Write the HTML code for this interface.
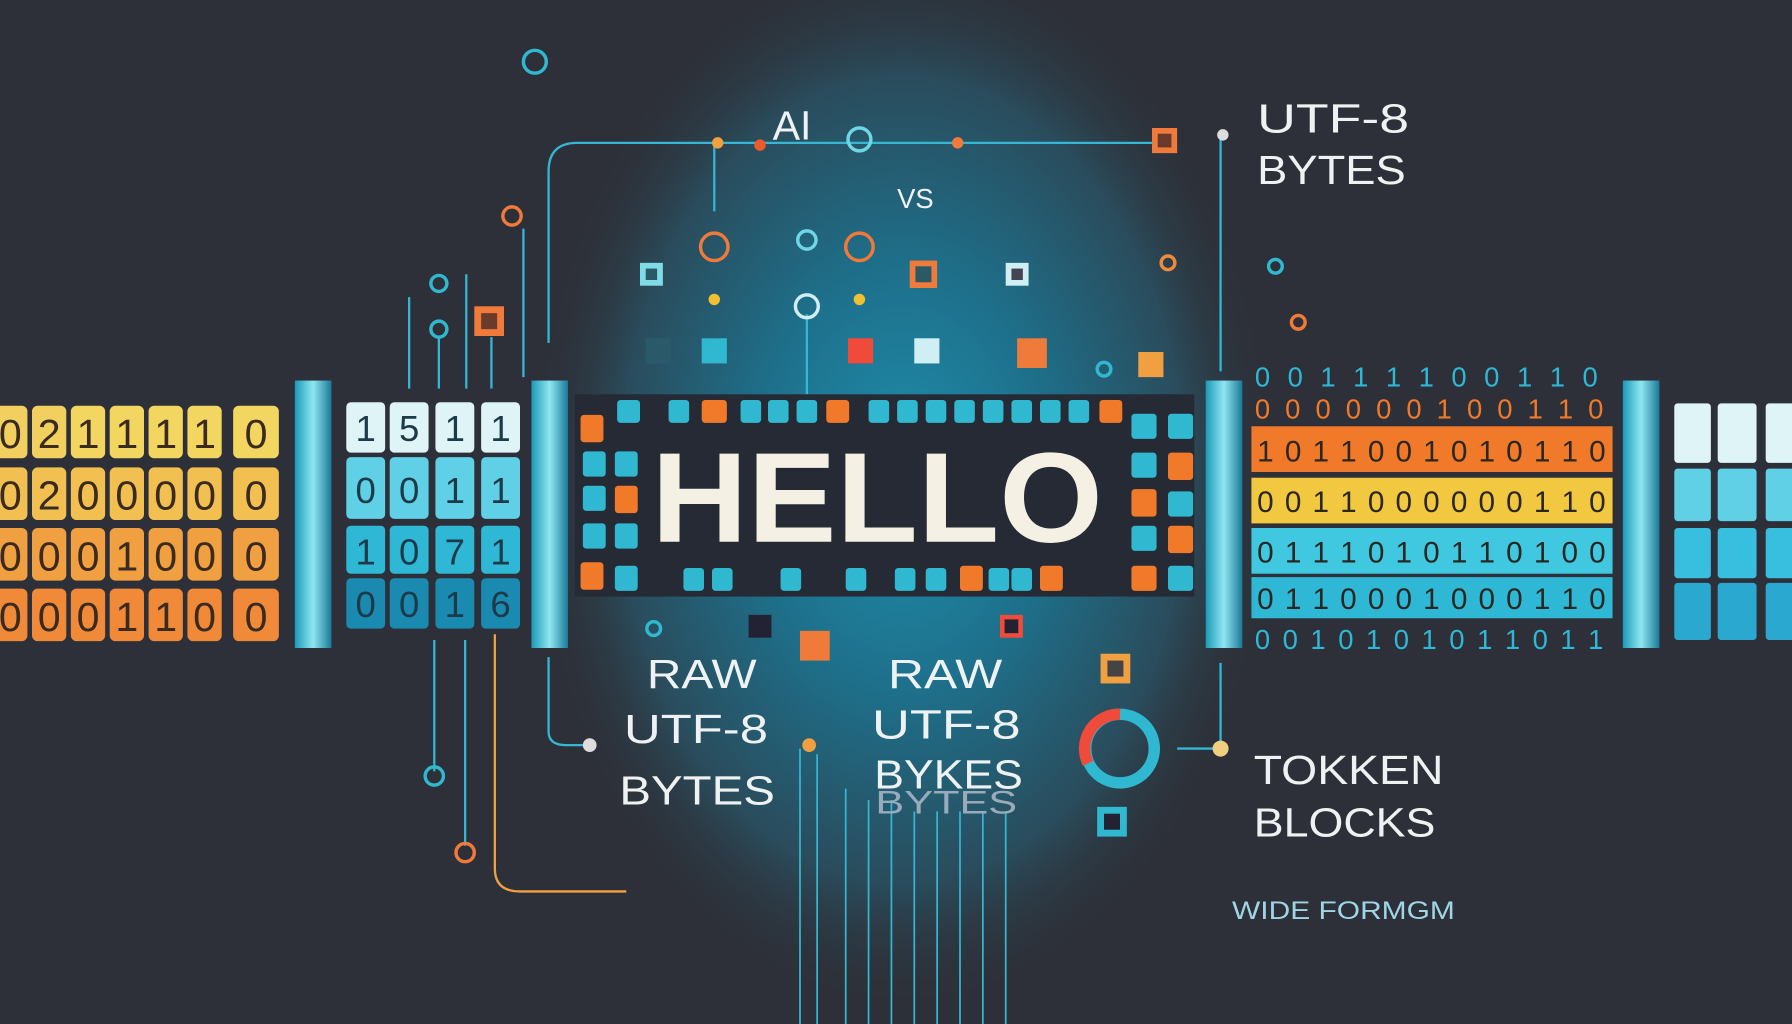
<!DOCTYPE html>
<html><head><meta charset="utf-8"><style>
html,body{margin:0;padding:0;background:#2d3038;}
svg{display:block}
text{font-family:"Liberation Sans",sans-serif}
</style></head><body>
<svg width="1792" height="1024" viewBox="0 0 1568 896" xmlns="http://www.w3.org/2000/svg">
<defs>
<radialGradient id="glow" cx="0.5" cy="0.5" r="0.5">
<stop offset="0" stop-color="#1f8fae"/><stop offset="0.4" stop-color="#1e6f8a"/><stop offset="0.75" stop-color="#2a4c5c"/><stop offset="1" stop-color="#2d3038" stop-opacity="0"/>
</radialGradient>
<linearGradient id="bar" x1="0" y1="0" x2="1" y2="0"><stop offset="0" stop-color="#1a9ab8"/><stop offset="0.5" stop-color="#8fe6f0"/><stop offset="1" stop-color="#1a7a98"/></linearGradient>
</defs>
<rect width="1568" height="896" fill="#2d3038"/>
<ellipse cx="790" cy="420" rx="330" ry="470" fill="url(#glow)"/>
<g stroke="#35b7d4" stroke-width="2" fill="none">
<path d="M480 300 V150 Q480 125 505 125 H1010"/>
<line x1="625" y1="125" x2="625" y2="185"/>
<line x1="1068" y1="120" x2="1068" y2="325"/>
<line x1="358" y1="260" x2="358" y2="340"/><line x1="384" y1="295" x2="384" y2="340"/>
<line x1="408" y1="240" x2="408" y2="340"/><line x1="430" y1="295" x2="430" y2="340"/>
<line x1="458" y1="200" x2="458" y2="330"/>
<line x1="706" y1="275" x2="706" y2="345"/>
<line x1="380" y1="560" x2="380" y2="675"/>
<line x1="407" y1="560" x2="407" y2="740"/>
<path d="M433 555 V760 Q433 780 455 780 H548" stroke="#f0a040"/>
<path d="M480 575 V640 Q480 652 495 652 H515"/>
<line x1="1068" y1="580" x2="1068" y2="650"/>
<path d="M1030 655 H1068"/>
<g stroke-width="1.5"><line x1="700" y1="655" x2="700" y2="896"/><line x1="715" y1="660" x2="715" y2="896"/><line x1="740" y1="690" x2="740" y2="896"/><line x1="760" y1="700" x2="760" y2="896"/><line x1="780" y1="700" x2="780" y2="896"/><line x1="800" y1="710" x2="800" y2="896"/><line x1="820" y1="710" x2="820" y2="896"/><line x1="840" y1="710" x2="840" y2="896"/><line x1="860" y1="710" x2="860" y2="896"/><line x1="880" y1="710" x2="880" y2="896"/></g>
</g>
<g fill="none" stroke-width="3">
<circle cx="468" cy="54" r="10" stroke="#2fb8d0"/>
<circle cx="448" cy="189" r="8" stroke="#f07a3a"/>
<circle cx="384" cy="248" r="7" stroke="#2fb8d0"/>
<circle cx="384" cy="288" r="7" stroke="#2fb8d0"/>
<circle cx="752" cy="122" r="10" stroke="#6fd6e6"/>
<circle cx="625" cy="216" r="12" stroke="#f07a3a"/>
<circle cx="752" cy="216" r="12" stroke="#f07a3a"/>
<circle cx="706" cy="210" r="8" stroke="#6fd6e6"/>
<circle cx="706" cy="268" r="10" stroke="#cfeff5"/>
<circle cx="1116" cy="233" r="6" stroke="#2fb8d0"/>
<circle cx="1022" cy="230" r="6" stroke="#f08a3a"/>
<circle cx="380" cy="679" r="8" stroke="#2fb8d0"/>
<circle cx="407" cy="746" r="8" stroke="#f07a3a"/>
<circle cx="572" cy="550" r="6" stroke="#2fb8d0"/>
<circle cx="966" cy="323" r="6" stroke="#2fb8d0"/>
<circle cx="1136" cy="282" r="6" stroke="#f07a3a"/>
<circle cx="980" cy="655" r="30" stroke="#2fb8d0" stroke-width="10"/>
</g>
<path d="M980 625 A30 30 0 0 0 952 668" stroke="#f04a3a" stroke-width="10" fill="none"/>
<g>
<rect x="1008" y="112" width="22" height="22" fill="#f07a3a"/><rect x="1013" y="117" width="12" height="12" fill="#6a3a2a"/>
<rect x="560" y="230" width="20" height="20" fill="#7fdbe8"/><rect x="565" y="235" width="10" height="10" fill="#2a5a66"/>
<rect x="880" y="230" width="20" height="20" fill="#cfeff5"/><rect x="885" y="235" width="10" height="10" fill="#445"/>
<rect x="415" y="268" width="26" height="26" fill="#f07a3a"/><rect x="421" y="274" width="14" height="14" fill="#6a3a2a"/>
<rect x="796" y="228" width="24" height="24" fill="#f07a3a"/><rect x="801" y="233" width="14" height="14" fill="#2a5a66"/>
<rect x="565" y="296" width="22" height="22" fill="#2a5a6a"/>
<rect x="614" y="296" width="22" height="22" fill="#2fb8d0"/>
<rect x="742" y="296" width="22" height="22" fill="#f04a3a"/>
<rect x="800" y="296" width="22" height="22" fill="#cfeff5"/>
<rect x="890" y="296" width="26" height="26" fill="#f07a3a"/>
<rect x="996" y="308" width="22" height="22" fill="#f0a040"/>
<rect x="700" y="552" width="26" height="26" fill="#f07a3a"/>
<rect x="655" y="538" width="20" height="20" fill="#223"/>
<rect x="875" y="538" width="20" height="20" fill="#f04a3a"/><rect x="879" y="542" width="12" height="12" fill="#223"/>
<rect x="963" y="572" width="26" height="26" fill="#f0a040"/><rect x="969" y="578" width="14" height="14" fill="#444"/>
<rect x="960" y="706" width="26" height="26" fill="#2fb8d0"/><rect x="966" y="712" width="14" height="14" fill="#223"/>
<circle cx="628" cy="125" r="5" fill="#f0a040"/><circle cx="665" cy="127" r="5" fill="#f05a2a"/>
<circle cx="838" cy="125" r="5" fill="#f07a3a"/><circle cx="625" cy="262" r="5" fill="#f0c030"/>
<circle cx="752" cy="262" r="5" fill="#f0c030"/><circle cx="1070" cy="118" r="5" fill="#ddd"/>
<circle cx="516" cy="652" r="6" fill="#ddd"/><circle cx="708" cy="652" r="6" fill="#f0a040"/>
<circle cx="1068" cy="655" r="7" fill="#f0d080"/>
</g>
<g>
<rect x="-6" y="355" width="30" height="46" rx="5" fill="#f2d060"/><rect x="28" y="355" width="30" height="46" rx="5" fill="#f2d060"/><rect x="62" y="355" width="30" height="46" rx="5" fill="#f2d660"/><rect x="96" y="355" width="30" height="46" rx="5" fill="#f2d660"/><rect x="130" y="355" width="30" height="46" rx="5" fill="#f2d660"/><rect x="164" y="355" width="30" height="46" rx="5" fill="#f2d660"/><rect x="204" y="355" width="40" height="46" rx="5" fill="#f2d660"/>
<rect x="-6" y="409" width="30" height="46" rx="5" fill="#f2c050"/><rect x="28" y="409" width="30" height="46" rx="5" fill="#f2c050"/><rect x="62" y="409" width="30" height="46" rx="5" fill="#f2c050"/><rect x="96" y="409" width="30" height="46" rx="5" fill="#f2c050"/><rect x="130" y="409" width="30" height="46" rx="5" fill="#f2c050"/><rect x="164" y="409" width="30" height="46" rx="5" fill="#f2c050"/><rect x="204" y="409" width="40" height="46" rx="5" fill="#f2c050"/>
<rect x="-6" y="462" width="30" height="46" rx="5" fill="#f0a040"/><rect x="28" y="462" width="30" height="46" rx="5" fill="#f0a040"/><rect x="62" y="462" width="30" height="46" rx="5" fill="#f0a040"/><rect x="96" y="462" width="30" height="46" rx="5" fill="#f0a040"/><rect x="130" y="462" width="30" height="46" rx="5" fill="#f0a040"/><rect x="164" y="462" width="30" height="46" rx="5" fill="#f0a040"/><rect x="204" y="462" width="40" height="46" rx="5" fill="#f0a040"/>
<rect x="-6" y="515" width="30" height="46" rx="5" fill="#f08a38"/><rect x="28" y="515" width="30" height="46" rx="5" fill="#f08a38"/><rect x="62" y="515" width="30" height="46" rx="5" fill="#f08a38"/><rect x="96" y="515" width="30" height="46" rx="5" fill="#f08a38"/><rect x="130" y="515" width="30" height="46" rx="5" fill="#f08a38"/><rect x="164" y="515" width="30" height="46" rx="5" fill="#f08a38"/><rect x="204" y="515" width="40" height="46" rx="5" fill="#f08a38"/>
</g>
<g font-size="36" text-anchor="middle" fill="#3a2a20">
<text x="9" y="392">0</text><text x="43" y="392">2</text><text x="77" y="392">1</text><text x="111" y="392">1</text><text x="145" y="392">1</text><text x="179" y="392">1</text><text x="224" y="392">0</text>
<text x="9" y="446">0</text><text x="43" y="446">2</text><text x="77" y="446">0</text><text x="111" y="446">0</text><text x="145" y="446">0</text><text x="179" y="446">0</text><text x="224" y="446">0</text>
<text x="9" y="499">0</text><text x="43" y="499">0</text><text x="77" y="499">0</text><text x="111" y="499">1</text><text x="145" y="499">0</text><text x="179" y="499">0</text><text x="224" y="499">0</text>
<text x="9" y="552">0</text><text x="43" y="552">0</text><text x="77" y="552">0</text><text x="111" y="552">1</text><text x="145" y="552">1</text><text x="179" y="552">0</text><text x="224" y="552">0</text>
</g>
<rect x="258" y="333" width="32" height="234" fill="url(#bar)"/>
<rect x="465" y="333" width="32" height="234" fill="url(#bar)"/>
<rect x="1055" y="333" width="32" height="234" fill="url(#bar)"/>
<g>
<rect x="303" y="352" width="34" height="44" rx="4" fill="#dff4f6"/><rect x="341" y="352" width="34" height="44" rx="4" fill="#dff4f6"/><rect x="381" y="352" width="34" height="44" rx="4" fill="#dff4f6"/><rect x="421" y="352" width="34" height="44" rx="4" fill="#dff4f6"/>
<rect x="303" y="400" width="34" height="54" rx="4" fill="#5fd0e6"/><rect x="341" y="400" width="34" height="54" rx="4" fill="#5fd0e6"/><rect x="381" y="400" width="34" height="54" rx="4" fill="#5fd0e6"/><rect x="421" y="400" width="34" height="54" rx="4" fill="#5fd0e6"/>
<rect x="303" y="460" width="34" height="42" rx="4" fill="#2fb8d6"/><rect x="341" y="460" width="34" height="42" rx="4" fill="#2fb8d6"/><rect x="381" y="460" width="34" height="42" rx="4" fill="#2fb8d6"/><rect x="421" y="460" width="34" height="42" rx="4" fill="#2fb8d6"/>
<rect x="303" y="506" width="34" height="44" rx="4" fill="#1a8ab0"/><rect x="341" y="506" width="34" height="44" rx="4" fill="#1a8ab0"/><rect x="381" y="506" width="34" height="44" rx="4" fill="#1a8ab0"/><rect x="421" y="506" width="34" height="44" rx="4" fill="#1a8ab0"/>
</g>
<g font-size="32" text-anchor="middle" fill="#1d3a48">
<text x="320" y="386">1</text><text x="358" y="386">5</text><text x="398" y="386">1</text><text x="438" y="386">1</text>
<text x="320" y="440">0</text><text x="358" y="440">0</text><text x="398" y="440">1</text><text x="438" y="440">1</text>
<text x="320" y="494">1</text><text x="358" y="494">0</text><text x="398" y="494">7</text><text x="438" y="494">1</text>
<text x="320" y="540">0</text><text x="358" y="540">0</text><text x="398" y="540">1</text><text x="438" y="540">6</text>
</g>
<rect x="503" y="345" width="542" height="177" fill="#252a34"/>
<g fill="#2fb8d0">
<rect x="540" y="350" width="20" height="20" rx="3"/><rect x="585" y="350" width="18" height="20" rx="3"/><rect x="648" y="350" width="18" height="20" rx="3"/><rect x="672" y="350" width="18" height="20" rx="3"/><rect x="697" y="350" width="18" height="20" rx="3"/><rect x="760" y="350" width="18" height="20" rx="3"/><rect x="785" y="350" width="18" height="20" rx="3"/><rect x="810" y="350" width="18" height="20" rx="3"/><rect x="835" y="350" width="18" height="20" rx="3"/><rect x="860" y="350" width="18" height="20" rx="3"/><rect x="885" y="350" width="18" height="20" rx="3"/><rect x="910" y="350" width="18" height="20" rx="3"/><rect x="935" y="350" width="18" height="20" rx="3"/>
<rect x="510" y="395" width="20" height="22" rx="3"/><rect x="538" y="395" width="20" height="22" rx="3"/><rect x="510" y="425" width="20" height="22" rx="3"/><rect x="510" y="458" width="20" height="22" rx="3"/><rect x="538" y="458" width="20" height="22" rx="3"/><rect x="538" y="495" width="20" height="22" rx="3"/>
<rect x="990" y="362" width="22" height="22" rx="3"/><rect x="1022" y="362" width="22" height="22" rx="3"/><rect x="990" y="396" width="22" height="22" rx="3"/><rect x="1022" y="430" width="22" height="22" rx="3"/><rect x="990" y="460" width="22" height="22" rx="3"/><rect x="1022" y="495" width="22" height="22" rx="3"/>
<rect x="598" y="497" width="18" height="20" rx="3"/><rect x="623" y="497" width="18" height="20" rx="3"/><rect x="683" y="497" width="18" height="20" rx="3"/><rect x="740" y="497" width="18" height="20" rx="3"/><rect x="783" y="497" width="18" height="20" rx="3"/><rect x="810" y="497" width="18" height="20" rx="3"/><rect x="865" y="497" width="18" height="20" rx="3"/><rect x="885" y="497" width="18" height="20" rx="3"/>
</g>
<g fill="#f07a2a">
<rect x="508" y="363" width="20" height="24" rx="3"/><rect x="538" y="425" width="20" height="24" rx="3"/><rect x="508" y="492" width="20" height="24" rx="3"/><rect x="614" y="350" width="22" height="20" rx="3"/><rect x="723" y="350" width="20" height="20" rx="3"/><rect x="962" y="350" width="20" height="20" rx="3"/><rect x="1022" y="396" width="22" height="24" rx="3"/><rect x="990" y="428" width="22" height="24" rx="3"/><rect x="1022" y="460" width="22" height="24" rx="3"/><rect x="990" y="495" width="22" height="22" rx="3"/><rect x="840" y="495" width="20" height="22" rx="3"/><rect x="910" y="495" width="20" height="22" rx="3"/>
</g>
<text x="570" y="474" font-size="112" font-weight="bold" textLength="395" lengthAdjust="spacingAndGlyphs" fill="#f4f1e4">HELLO</text>
<rect x="1095" y="373" width="316" height="40" fill="#f07a2a"/>
<rect x="1095" y="418" width="316" height="40" fill="#f2c840"/>
<rect x="1095" y="462" width="316" height="40" fill="#40c8e0"/>
<rect x="1095" y="505" width="316" height="36" fill="#2fb8d6"/>
<g font-size="24">
<text x="1098" y="338" fill="#2fb8d6" textLength="300">0 0 1 1 1 1 0 0 1 1 0</text>
<text x="1098" y="366" fill="#f07a2a" textLength="305">0 0 0 0 0 0 1 0 0 1 1 0</text>
<text x="1098" y="568" fill="#2fb8d6" textLength="305">0 0 1 0 1 0 1 0 1 1 0 1 1</text>
</g>
<g font-size="26" fill="#2a2620">
<text x="1100" y="404" textLength="305">1 0 1 1 0 0 1 0 1 0 1 1 0</text>
<text x="1100" y="448" textLength="305">0 0 1 1 0 0 0 0 0 0 1 1 0</text>
<text x="1100" y="492" textLength="305">0 1 1 1 0 1 0 1 1 0 1 0 0</text>
<text x="1100" y="533" textLength="305">0 1 1 0 0 0 1 0 0 0 1 1 0</text>
</g>
<rect x="1420" y="333" width="32" height="234" fill="url(#bar)"/>
<g>
<rect x="1465" y="353" width="32" height="52" rx="3" fill="#dff4f6"/><rect x="1503" y="353" width="34" height="52" rx="3" fill="#dff4f6"/><rect x="1545" y="353" width="30" height="52" rx="3" fill="#dff4f6"/>
<rect x="1465" y="410" width="32" height="46" rx="3" fill="#5fd0e6"/><rect x="1503" y="410" width="34" height="46" rx="3" fill="#5fd0e6"/><rect x="1545" y="410" width="30" height="46" rx="3" fill="#5fd0e6"/>
<rect x="1465" y="462" width="32" height="44" rx="3" fill="#38bede"/><rect x="1503" y="462" width="34" height="44" rx="3" fill="#38bede"/><rect x="1545" y="462" width="30" height="44" rx="3" fill="#38bede"/>
<rect x="1465" y="510" width="32" height="50" rx="3" fill="#2aa8d0"/><rect x="1503" y="510" width="34" height="50" rx="3" fill="#2aa8d0"/><rect x="1545" y="510" width="30" height="50" rx="3" fill="#2aa8d0"/>
</g>
<g fill="#eef2f2" lengthAdjust="spacingAndGlyphs">
<text x="676" y="122" font-size="36">AI</text>
<text x="785" y="182" font-size="24">VS</text>
<text x="1100" y="116" font-size="36" textLength="133" lengthAdjust="spacingAndGlyphs">UTF-8</text>
<text x="1100" y="161" font-size="36" textLength="130" lengthAdjust="spacingAndGlyphs">BYTES</text>
<text x="566" y="602" font-size="36" textLength="96" lengthAdjust="spacingAndGlyphs">RAW</text>
<text x="546" y="650" font-size="36" textLength="126" lengthAdjust="spacingAndGlyphs">UTF-8</text>
<text x="542" y="704" font-size="36" textLength="136" lengthAdjust="spacingAndGlyphs">BYTES</text>
<text x="777" y="602" font-size="36" textLength="100" lengthAdjust="spacingAndGlyphs">RAW</text>
<text x="763" y="646" font-size="36" textLength="130" lengthAdjust="spacingAndGlyphs">UTF-8</text>
<text x="765" y="690" font-size="36" textLength="130" lengthAdjust="spacingAndGlyphs">BYKES</text>
<text x="766" y="712" font-size="28" fill="#9ab" textLength="124" lengthAdjust="spacingAndGlyphs">BYTES</text>
<text x="1097" y="686" font-size="36" textLength="166" lengthAdjust="spacingAndGlyphs">TOKKEN</text>
<text x="1097" y="732" font-size="36" textLength="159" lengthAdjust="spacingAndGlyphs">BLOCKS</text>
<text x="1078" y="804" font-size="22" fill="#9ed6e6" textLength="195" lengthAdjust="spacingAndGlyphs">WIDE FORMGM</text>
</g>
</svg>
</body></html>
